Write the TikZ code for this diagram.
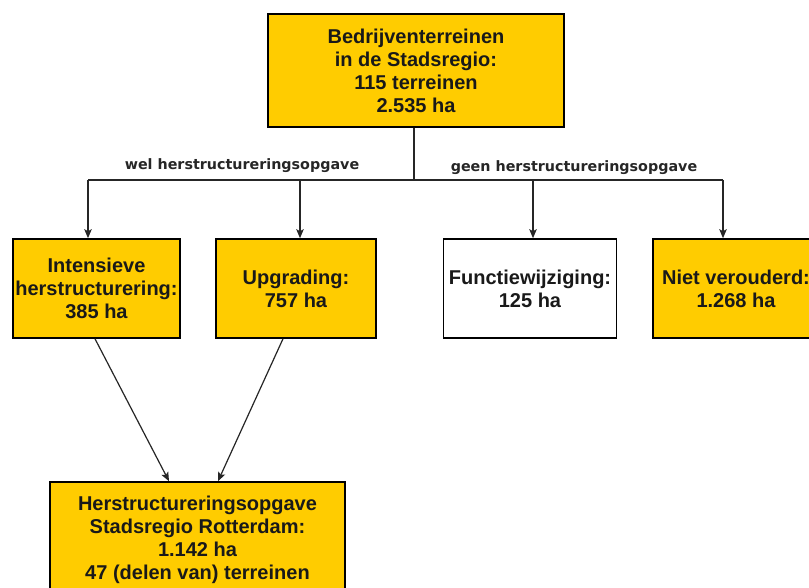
\documentclass[tikz,border=0pt]{standalone}
\usepackage{fontspec}
\setmainfont{Liberation Sans}
\newfontfamily\labelfont{DejaVu Sans}
\usetikzlibrary{arrows.meta}
\definecolor{boxgold}{RGB}{255,204,0}
\tikzset{
  box/.style={draw=black, line width=1.6pt, fill=boxgold, align=center,
    font=\fontsize{20}{23}\selectfont\bfseries, inner sep=0pt, text=black!90},
  whitebox/.style={box, fill=white},
  conn/.style={line width=1.2pt, draw=black!85},
  arr/.style={conn, -{Stealth[length=9pt,width=7.5pt,inset=2pt]}},
  elabel/.style={font=\labelfont\fontsize{14.3}{16}\selectfont\bfseries, text=black!85, inner sep=0pt}
}
\begin{document}
\begin{tikzpicture}[x=1pt,y=-1pt]
\clip (0,0) rectangle (809,588);
\fill[white] (0,0) rectangle (809,588);
\node[box, minimum width=296pt, minimum height=113pt] (top) at (416,70.5)
  {Bedrijventerreinen\\in de Stadsregio:\\115 terreinen\\2.535 ha};
\node[box, minimum width=167pt, minimum height=99pt] (b1) at (96.5,288.5)
  {Intensieve\\herstructurering:\\385 ha};
\node[box, minimum width=160pt, minimum height=99pt] (b2) at (296,288.5)
  {Upgrading:\\757 ha};
\node[whitebox, minimum width=173pt, minimum height=99pt] (b3) at (530,288.5)
  {Functiewijziging:\\125 ha};
\node[box, minimum width=166pt, minimum height=99pt] (b4) at (736,288.5)
  {Niet verouderd:\\1.268 ha};
\node[box, minimum width=295pt, minimum height=116pt] (hs) at (197.5,540)
  {Herstructureringsopgave\\Stadsregio Rotterdam:\\1.142 ha\\47 (delen van) terreinen};
\coordinate (jc) at (414,180);
\coordinate (j1) at (88,180);
\coordinate (j2) at (300,180);
\coordinate (j3) at (533,180);
\coordinate (j4) at (723,180);
\draw[conn] (top.south -| jc) -- (jc);
\draw[conn] (j1) -- (j4);
\draw[arr] (j1) -- (j1 |- b1.north);
\draw[arr] (j2) -- (j2 |- b2.north);
\draw[arr] (j3) -- (j3 |- b3.north);
\draw[arr] (j4) -- (j4 |- b4.north);
\draw[arr] ([xshift=-1.5pt]b1.south) -- ([xshift=-28.5pt]hs.north);
\draw[arr] ([xshift=-13pt]b2.south) -- ([xshift=20.5pt]hs.north);
\node[elabel] (lwel) at (242,166) {wel herstructureringsopgave};
\node[elabel] (lgeen) at (574,168) {geen herstructureringsopgave};
\end{tikzpicture}
\end{document}
